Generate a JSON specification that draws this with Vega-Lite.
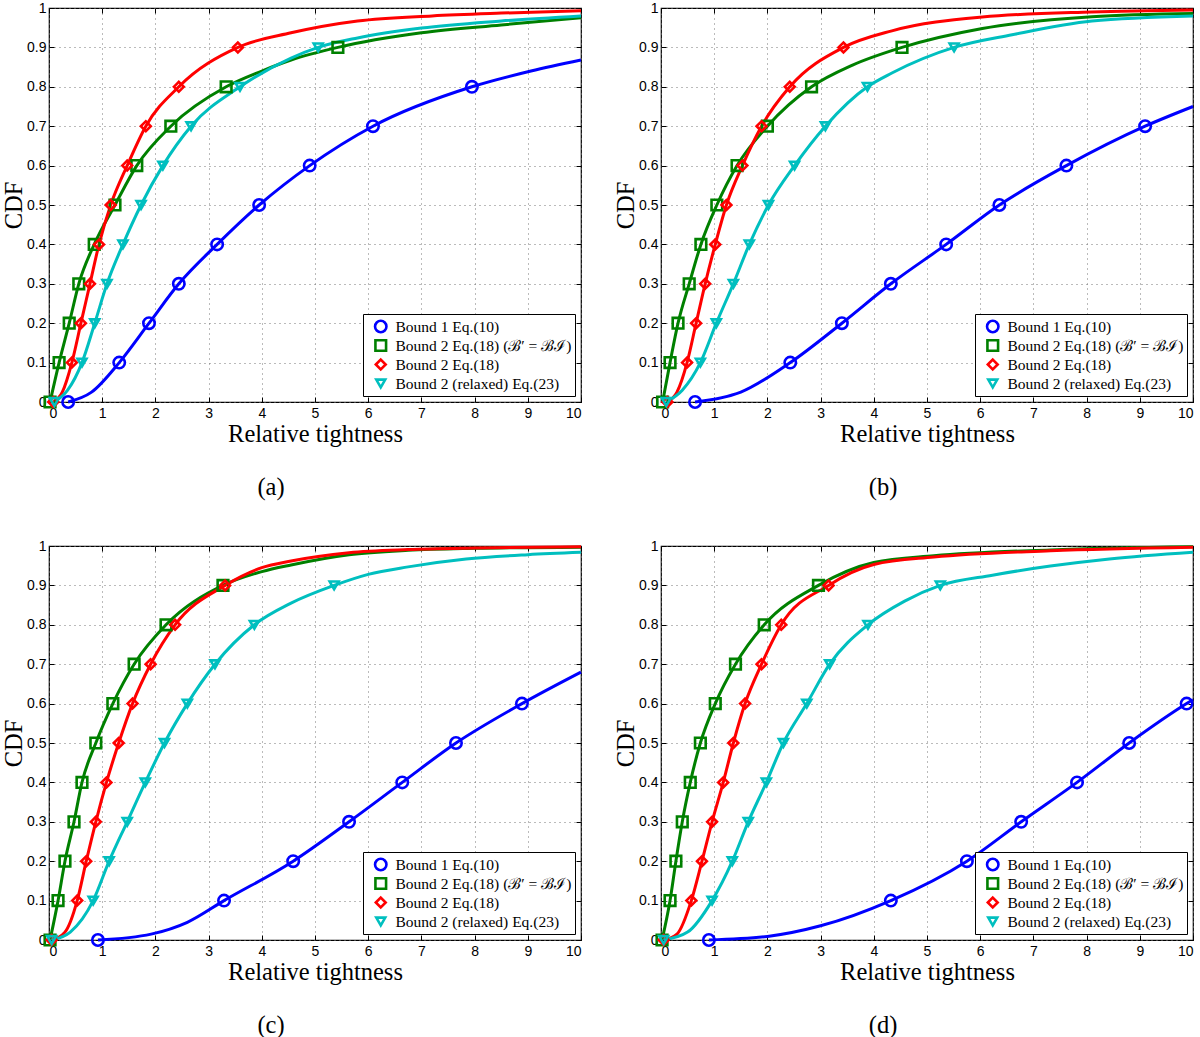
{
"$schema": "https://vega.github.io/schema/vega-lite/v6.json",
"background": "white",
"padding": {"left": 0, "top": 0, "right": 5, "bottom": 0},
"bounds": "flush",
"columns": 2,
"spacing": {"column": 80, "row": 144},
"config": {
  "view": {"stroke": "black", "strokeWidth": 1.2},
  "axis": {"labelFont": "Liberation Sans", "labelFontSize": 14, "labelColor": "black", "titleFont": "Liberation Serif", "titleFontSize": 24.5, "titleFontWeight": "normal", "titleColor": "black", "domain": false, "tickColor": "black", "tickSize": -5, "tickWidth": 1, "gridColor": "#777", "gridDash": [1, 4], "gridOpacity": 1, "gridWidth": 1},
  "axisBottom": {"labelPadding": 9, "titlePadding": 2},
  "axisLeft": {"labelPadding": 8, "titlePadding": 0},
  "legend": {"labelFont": "Liberation Serif", "labelFontSize": 15.5, "labelColor": "black", "strokeColor": "black", "fillColor": "white", "padding": 3, "rowPadding": 0, "clipHeight": 19, "symbolOffset": 7, "labelOffset": 7, "symbolStrokeWidth": 2.6, "symbolSize": 100, "offset": 6, "orient": "bottom-right", "title": null, "labelLimit": 300},
  "title": {"font": "Liberation Serif", "fontSize": 24.5, "fontWeight": "normal", "color": "black"}
},
"resolve": {"scale": {"color": "independent", "shape": "independent", "size": "independent"}, "legend": {"color": "independent", "shape": "independent"}},
"data": {"values": [
{"p":"a","s":"b1","x":0.36,"y":0,"k":"m"},{"p":"a","s":"b1","x":0.8,"y":0.025,"k":"c"},{"p":"a","s":"b1","x":1.32,"y":0.1,"k":"m"},{"p":"a","s":"b1","x":1.88,"y":0.2,"k":"m"},{"p":"a","s":"b1","x":2.44,"y":0.3,"k":"m"},{"p":"a","s":"b1","x":3.16,"y":0.4,"k":"m"},{"p":"a","s":"b1","x":3.95,"y":0.5,"k":"m"},{"p":"a","s":"b1","x":4.9,"y":0.6,"k":"m"},{"p":"a","s":"b1","x":6.09,"y":0.7,"k":"m"},{"p":"a","s":"b1","x":7.95,"y":0.8,"k":"m"},{"p":"a","s":"b1","x":9.06,"y":0.84,"k":"c"},{"p":"a","s":"b1","x":10,"y":0.868,"k":"c"},
{"p":"a","s":"b2i","x":0.02,"y":0,"k":"m"},{"p":"a","s":"b2i","x":0.19,"y":0.1,"k":"m"},{"p":"a","s":"b2i","x":0.38,"y":0.2,"k":"m"},{"p":"a","s":"b2i","x":0.56,"y":0.3,"k":"m"},{"p":"a","s":"b2i","x":0.85,"y":0.4,"k":"m"},{"p":"a","s":"b2i","x":1.24,"y":0.5,"k":"m"},{"p":"a","s":"b2i","x":1.65,"y":0.6,"k":"m"},{"p":"a","s":"b2i","x":2.29,"y":0.7,"k":"m"},{"p":"a","s":"b2i","x":3.33,"y":0.8,"k":"m"},{"p":"a","s":"b2i","x":4.0,"y":0.84,"k":"c"},{"p":"a","s":"b2i","x":4.55,"y":0.868,"k":"c"},{"p":"a","s":"b2i","x":5.43,"y":0.9,"k":"m"},{"p":"a","s":"b2i","x":7.0,"y":0.937,"k":"c"},{"p":"a","s":"b2i","x":8.5,"y":0.957,"k":"c"},{"p":"a","s":"b2i","x":10,"y":0.975,"k":"c"},
{"p":"a","s":"b2","x":0.08,"y":0,"k":"m"},{"p":"a","s":"b2","x":0.25,"y":0.025,"k":"c"},{"p":"a","s":"b2","x":0.43,"y":0.1,"k":"m"},{"p":"a","s":"b2","x":0.6,"y":0.2,"k":"m"},{"p":"a","s":"b2","x":0.77,"y":0.3,"k":"m"},{"p":"a","s":"b2","x":0.94,"y":0.4,"k":"m"},{"p":"a","s":"b2","x":1.16,"y":0.5,"k":"m"},{"p":"a","s":"b2","x":1.47,"y":0.6,"k":"m"},{"p":"a","s":"b2","x":1.82,"y":0.7,"k":"m"},{"p":"a","s":"b2","x":2.44,"y":0.8,"k":"m"},{"p":"a","s":"b2","x":3.55,"y":0.9,"k":"m"},{"p":"a","s":"b2","x":4.55,"y":0.937,"k":"c"},{"p":"a","s":"b2","x":5.8,"y":0.967,"k":"c"},{"p":"a","s":"b2","x":7.2,"y":0.98,"k":"c"},{"p":"a","s":"b2","x":8.5,"y":0.987,"k":"c"},{"p":"a","s":"b2","x":10,"y":0.993,"k":"c"},
{"p":"a","s":"b2r","x":0.1,"y":0,"k":"m"},{"p":"a","s":"b2r","x":0.35,"y":0.03,"k":"c"},{"p":"a","s":"b2r","x":0.62,"y":0.1,"k":"m"},{"p":"a","s":"b2r","x":0.86,"y":0.2,"k":"m"},{"p":"a","s":"b2r","x":1.09,"y":0.3,"k":"m"},{"p":"a","s":"b2r","x":1.39,"y":0.4,"k":"m"},{"p":"a","s":"b2r","x":1.73,"y":0.5,"k":"m"},{"p":"a","s":"b2r","x":2.14,"y":0.6,"k":"m"},{"p":"a","s":"b2r","x":2.67,"y":0.7,"k":"m"},{"p":"a","s":"b2r","x":3.59,"y":0.8,"k":"m"},{"p":"a","s":"b2r","x":4.55,"y":0.873,"k":"c"},{"p":"a","s":"b2r","x":5.06,"y":0.9,"k":"m"},{"p":"a","s":"b2r","x":5.8,"y":0.924,"k":"c"},{"p":"a","s":"b2r","x":7.0,"y":0.949,"k":"c"},{"p":"a","s":"b2r","x":8.5,"y":0.967,"k":"c"},{"p":"a","s":"b2r","x":10,"y":0.98,"k":"c"},

{"p":"b","s":"b1","x":0.64,"y":0,"k":"m"},{"p":"b","s":"b1","x":1.5,"y":0.025,"k":"c"},{"p":"b","s":"b1","x":2.43,"y":0.1,"k":"m"},{"p":"b","s":"b1","x":3.4,"y":0.2,"k":"m"},{"p":"b","s":"b1","x":4.32,"y":0.3,"k":"m"},{"p":"b","s":"b1","x":5.36,"y":0.4,"k":"m"},{"p":"b","s":"b1","x":6.36,"y":0.5,"k":"m"},{"p":"b","s":"b1","x":7.62,"y":0.6,"k":"m"},{"p":"b","s":"b1","x":9.1,"y":0.7,"k":"m"},{"p":"b","s":"b1","x":10,"y":0.75,"k":"c"},
{"p":"b","s":"b2i","x":0.03,"y":0,"k":"m"},{"p":"b","s":"b2i","x":0.17,"y":0.1,"k":"m"},{"p":"b","s":"b2i","x":0.32,"y":0.2,"k":"m"},{"p":"b","s":"b2i","x":0.53,"y":0.3,"k":"m"},{"p":"b","s":"b2i","x":0.75,"y":0.4,"k":"m"},{"p":"b","s":"b2i","x":1.05,"y":0.5,"k":"m"},{"p":"b","s":"b2i","x":1.43,"y":0.6,"k":"m"},{"p":"b","s":"b2i","x":2.0,"y":0.7,"k":"m"},{"p":"b","s":"b2i","x":2.83,"y":0.8,"k":"m"},{"p":"b","s":"b2i","x":3.6,"y":0.855,"k":"c"},{"p":"b","s":"b2i","x":4.53,"y":0.9,"k":"m"},{"p":"b","s":"b2i","x":6.04,"y":0.948,"k":"c"},{"p":"b","s":"b2i","x":8.1,"y":0.978,"k":"c"},{"p":"b","s":"b2i","x":10,"y":0.986,"k":"c"},
{"p":"b","s":"b2","x":0.12,"y":0,"k":"m"},{"p":"b","s":"b2","x":0.3,"y":0.025,"k":"c"},{"p":"b","s":"b2","x":0.49,"y":0.1,"k":"m"},{"p":"b","s":"b2","x":0.66,"y":0.2,"k":"m"},{"p":"b","s":"b2","x":0.83,"y":0.3,"k":"m"},{"p":"b","s":"b2","x":1.02,"y":0.4,"k":"m"},{"p":"b","s":"b2","x":1.23,"y":0.5,"k":"m"},{"p":"b","s":"b2","x":1.53,"y":0.6,"k":"m"},{"p":"b","s":"b2","x":1.89,"y":0.7,"k":"m"},{"p":"b","s":"b2","x":2.42,"y":0.8,"k":"m"},{"p":"b","s":"b2","x":3.43,"y":0.9,"k":"m"},{"p":"b","s":"b2","x":4.34,"y":0.942,"k":"c"},{"p":"b","s":"b2","x":6.04,"y":0.977,"k":"c"},{"p":"b","s":"b2","x":8.1,"y":0.99,"k":"c"},{"p":"b","s":"b2","x":10,"y":0.995,"k":"c"},
{"p":"b","s":"b2r","x":0.1,"y":0,"k":"m"},{"p":"b","s":"b2r","x":0.4,"y":0.03,"k":"c"},{"p":"b","s":"b2r","x":0.74,"y":0.1,"k":"m"},{"p":"b","s":"b2r","x":1.04,"y":0.2,"k":"m"},{"p":"b","s":"b2r","x":1.36,"y":0.3,"k":"m"},{"p":"b","s":"b2r","x":1.66,"y":0.4,"k":"m"},{"p":"b","s":"b2r","x":2.02,"y":0.5,"k":"m"},{"p":"b","s":"b2r","x":2.51,"y":0.6,"k":"m"},{"p":"b","s":"b2r","x":3.09,"y":0.7,"k":"m"},{"p":"b","s":"b2r","x":3.88,"y":0.8,"k":"m"},{"p":"b","s":"b2r","x":4.34,"y":0.835,"k":"c"},{"p":"b","s":"b2r","x":5.51,"y":0.9,"k":"m"},{"p":"b","s":"b2r","x":6.6,"y":0.932,"k":"c"},{"p":"b","s":"b2r","x":8.1,"y":0.967,"k":"c"},{"p":"b","s":"b2r","x":10,"y":0.98,"k":"c"},

{"p":"c","s":"b1","x":0.92,"y":0,"k":"m"},{"p":"c","s":"b1","x":1.92,"y":0.015,"k":"c"},{"p":"c","s":"b1","x":2.6,"y":0.045,"k":"c"},{"p":"c","s":"b1","x":3.29,"y":0.1,"k":"m"},{"p":"c","s":"b1","x":4.59,"y":0.2,"k":"m"},{"p":"c","s":"b1","x":5.64,"y":0.3,"k":"m"},{"p":"c","s":"b1","x":6.64,"y":0.4,"k":"m"},{"p":"c","s":"b1","x":7.65,"y":0.5,"k":"m"},{"p":"c","s":"b1","x":8.89,"y":0.6,"k":"m"},{"p":"c","s":"b1","x":10,"y":0.68,"k":"c"},
{"p":"c","s":"b2i","x":0.02,"y":0,"k":"m"},{"p":"c","s":"b2i","x":0.17,"y":0.1,"k":"m"},{"p":"c","s":"b2i","x":0.3,"y":0.2,"k":"m"},{"p":"c","s":"b2i","x":0.47,"y":0.3,"k":"m"},{"p":"c","s":"b2i","x":0.62,"y":0.4,"k":"m"},{"p":"c","s":"b2i","x":0.88,"y":0.5,"k":"m"},{"p":"c","s":"b2i","x":1.2,"y":0.6,"k":"m"},{"p":"c","s":"b2i","x":1.6,"y":0.7,"k":"m"},{"p":"c","s":"b2i","x":2.2,"y":0.8,"k":"m"},{"p":"c","s":"b2i","x":3.27,"y":0.9,"k":"m"},{"p":"c","s":"b2i","x":4,"y":0.935,"k":"c"},{"p":"c","s":"b2i","x":4.55,"y":0.952,"k":"c"},{"p":"c","s":"b2i","x":5.64,"y":0.978,"k":"c"},{"p":"c","s":"b2i","x":6.75,"y":0.989,"k":"c"},{"p":"c","s":"b2i","x":8,"y":0.994,"k":"c"},{"p":"c","s":"b2i","x":10,"y":0.997,"k":"c"},
{"p":"c","s":"b2","x":0.05,"y":0,"k":"m"},{"p":"c","s":"b2","x":0.3,"y":0.02,"k":"c"},{"p":"c","s":"b2","x":0.53,"y":0.1,"k":"m"},{"p":"c","s":"b2","x":0.7,"y":0.2,"k":"m"},{"p":"c","s":"b2","x":0.88,"y":0.3,"k":"m"},{"p":"c","s":"b2","x":1.08,"y":0.4,"k":"m"},{"p":"c","s":"b2","x":1.31,"y":0.5,"k":"m"},{"p":"c","s":"b2","x":1.57,"y":0.6,"k":"m"},{"p":"c","s":"b2","x":1.91,"y":0.7,"k":"m"},{"p":"c","s":"b2","x":2.37,"y":0.8,"k":"m"},{"p":"c","s":"b2","x":3.31,"y":0.9,"k":"m"},{"p":"c","s":"b2","x":4,"y":0.945,"k":"c"},{"p":"c","s":"b2","x":4.55,"y":0.962,"k":"c"},{"p":"c","s":"b2","x":5.64,"y":0.983,"k":"c"},{"p":"c","s":"b2","x":6.75,"y":0.991,"k":"c"},{"p":"c","s":"b2","x":8,"y":0.995,"k":"c"},{"p":"c","s":"b2","x":10,"y":0.998,"k":"c"},
{"p":"c","s":"b2r","x":0.05,"y":0,"k":"m"},{"p":"c","s":"b2r","x":0.4,"y":0.02,"k":"c"},{"p":"c","s":"b2r","x":0.83,"y":0.1,"k":"m"},{"p":"c","s":"b2r","x":1.13,"y":0.2,"k":"m"},{"p":"c","s":"b2r","x":1.47,"y":0.3,"k":"m"},{"p":"c","s":"b2r","x":1.81,"y":0.4,"k":"m"},{"p":"c","s":"b2r","x":2.17,"y":0.5,"k":"m"},{"p":"c","s":"b2r","x":2.6,"y":0.6,"k":"m"},{"p":"c","s":"b2r","x":3.12,"y":0.7,"k":"m"},{"p":"c","s":"b2r","x":3.86,"y":0.8,"k":"m"},{"p":"c","s":"b2r","x":4.55,"y":0.855,"k":"c"},{"p":"c","s":"b2r","x":5.36,"y":0.9,"k":"m"},{"p":"c","s":"b2r","x":6.0,"y":0.928,"k":"c"},{"p":"c","s":"b2r","x":6.75,"y":0.947,"k":"c"},{"p":"c","s":"b2r","x":7.84,"y":0.967,"k":"c"},{"p":"c","s":"b2r","x":9,"y":0.978,"k":"c"},{"p":"c","s":"b2r","x":10,"y":0.984,"k":"c"},

{"p":"d","s":"b1","x":0.9,"y":0,"k":"m"},{"p":"d","s":"b1","x":2.0,"y":0.009,"k":"c"},{"p":"d","s":"b1","x":3.0,"y":0.036,"k":"c"},{"p":"d","s":"b1","x":4.32,"y":0.1,"k":"m"},{"p":"d","s":"b1","x":5.75,"y":0.2,"k":"m"},{"p":"d","s":"b1","x":6.77,"y":0.3,"k":"m"},{"p":"d","s":"b1","x":7.82,"y":0.4,"k":"m"},{"p":"d","s":"b1","x":8.8,"y":0.5,"k":"m"},{"p":"d","s":"b1","x":9.88,"y":0.6,"k":"m"},{"p":"d","s":"b1","x":10,"y":0.61,"k":"c"},
{"p":"d","s":"b2i","x":0.02,"y":0,"k":"m"},{"p":"d","s":"b2i","x":0.17,"y":0.1,"k":"m"},{"p":"d","s":"b2i","x":0.28,"y":0.2,"k":"m"},{"p":"d","s":"b2i","x":0.4,"y":0.3,"k":"m"},{"p":"d","s":"b2i","x":0.55,"y":0.4,"k":"m"},{"p":"d","s":"b2i","x":0.74,"y":0.5,"k":"m"},{"p":"d","s":"b2i","x":1.02,"y":0.6,"k":"m"},{"p":"d","s":"b2i","x":1.4,"y":0.7,"k":"m"},{"p":"d","s":"b2i","x":1.94,"y":0.8,"k":"m"},{"p":"d","s":"b2i","x":2.96,"y":0.9,"k":"m"},{"p":"d","s":"b2i","x":4,"y":0.958,"k":"c"},{"p":"d","s":"b2i","x":5.13,"y":0.975,"k":"c"},{"p":"d","s":"b2i","x":7.32,"y":0.99,"k":"c"},{"p":"d","s":"b2i","x":10,"y":0.998,"k":"c"},
{"p":"d","s":"b2","x":0.05,"y":0,"k":"m"},{"p":"d","s":"b2","x":0.3,"y":0.015,"k":"c"},{"p":"d","s":"b2","x":0.57,"y":0.1,"k":"m"},{"p":"d","s":"b2","x":0.77,"y":0.2,"k":"m"},{"p":"d","s":"b2","x":0.96,"y":0.3,"k":"m"},{"p":"d","s":"b2","x":1.17,"y":0.4,"k":"m"},{"p":"d","s":"b2","x":1.36,"y":0.5,"k":"m"},{"p":"d","s":"b2","x":1.58,"y":0.6,"k":"m"},{"p":"d","s":"b2","x":1.89,"y":0.7,"k":"m"},{"p":"d","s":"b2","x":2.26,"y":0.8,"k":"m"},{"p":"d","s":"b2","x":3.15,"y":0.9,"k":"m"},{"p":"d","s":"b2","x":4,"y":0.953,"k":"c"},{"p":"d","s":"b2","x":5.13,"y":0.972,"k":"c"},{"p":"d","s":"b2","x":7.32,"y":0.988,"k":"c"},{"p":"d","s":"b2","x":10,"y":0.997,"k":"c"},
{"p":"d","s":"b2r","x":0.05,"y":0,"k":"m"},{"p":"d","s":"b2r","x":0.5,"y":0.02,"k":"c"},{"p":"d","s":"b2r","x":0.96,"y":0.1,"k":"m"},{"p":"d","s":"b2r","x":1.34,"y":0.2,"k":"m"},{"p":"d","s":"b2r","x":1.64,"y":0.3,"k":"m"},{"p":"d","s":"b2r","x":1.98,"y":0.4,"k":"m"},{"p":"d","s":"b2r","x":2.3,"y":0.5,"k":"m"},{"p":"d","s":"b2r","x":2.74,"y":0.6,"k":"m"},{"p":"d","s":"b2r","x":3.17,"y":0.7,"k":"m"},{"p":"d","s":"b2r","x":3.89,"y":0.8,"k":"m"},{"p":"d","s":"b2r","x":4.58,"y":0.86,"k":"c"},{"p":"d","s":"b2r","x":5.25,"y":0.9,"k":"m"},{"p":"d","s":"b2r","x":6.23,"y":0.926,"k":"c"},{"p":"d","s":"b2r","x":7.32,"y":0.949,"k":"c"},{"p":"d","s":"b2r","x":8.43,"y":0.967,"k":"c"},{"p":"d","s":"b2r","x":10,"y":0.984,"k":"c"}
]},
"concat": [
{"width": 532, "height": 394,
 "title": {"text": "(a)", "orient": "bottom", "offset": 30, "frame": "group", "dx": -44},
 "transform": [{"filter": "datum.p === 'a'"}],
 "resolve": {"axis": {"x": "independent", "y": "independent"}},
 "layer": [
  {"mark": {"type": "line", "strokeWidth": 3, "interpolate": "monotone"},
   "encoding": {
    "x": {"field": "x", "type": "quantitative", "scale": {"domain": [0, 10], "nice": false}, "axis": {"orient": "bottom", "values": [0,1,2,3,4,5,6,7,8,9,10], "format": "d", "title": "Relative tightness"}},
    "y": {"field": "y", "type": "quantitative", "scale": {"domain": [0, 1], "nice": false}, "axis": {"orient": "left", "values": [0,0.1,0.2,0.3,0.4,0.5,0.6,0.7,0.8,0.9,1], "format": ".1~f", "title": "CDF"}},
    "color": {"field": "s", "type": "nominal", "scale": {"domain": ["b1","b2i","b2","b2r"], "range": ["#0000ff","#008000","#ff0000","#00bfbf"]}, "legend": {"labelExpr": "datum.label === 'b1' ? 'Bound 1 Eq.(10)' : datum.label === 'b2i' ? 'Bound 2 Eq.(18) (ℬ′ = ℬℐ)' : datum.label === 'b2' ? 'Bound 2 Eq.(18)' : 'Bound 2 (relaxed) Eq.(23)'"}}}},
  {"transform": [{"filter": "datum.k === 'm'"}],
   "mark": {"type": "point", "filled": false, "strokeWidth": 2.6, "opacity": 1},
   "encoding": {
    "x": {"field": "x", "type": "quantitative", "axis": {"orient": "top", "values": [0,1,2,3,4,5,6,7,8,9,10], "labels": false, "grid": false, "title": null}},
    "y": {"field": "y", "type": "quantitative", "axis": {"orient": "right", "values": [0,0.1,0.2,0.3,0.4,0.5,0.6,0.7,0.8,0.9,1], "labels": false, "grid": false, "title": null}},
    "color": {"field": "s", "type": "nominal", "scale": {"domain": ["b1","b2i","b2","b2r"], "range": ["#0000ff","#008000","#ff0000","#00bfbf"]}, "legend": {"labelExpr": "datum.label === 'b1' ? 'Bound 1 Eq.(10)' : datum.label === 'b2i' ? 'Bound 2 Eq.(18) (ℬ′ = ℬℐ)' : datum.label === 'b2' ? 'Bound 2 Eq.(18)' : 'Bound 2 (relaxed) Eq.(23)'"}},
    "shape": {"field": "s", "type": "nominal", "scale": {"domain": ["b1","b2i","b2","b2r"], "range": ["circle","square","diamond","triangle-down"]}, "legend": {"labelExpr": "datum.label === 'b1' ? 'Bound 1 Eq.(10)' : datum.label === 'b2i' ? 'Bound 2 Eq.(18) (ℬ′ = ℬℐ)' : datum.label === 'b2' ? 'Bound 2 Eq.(18)' : 'Bound 2 (relaxed) Eq.(23)'"}},
    "size": {"field": "s", "type": "nominal", "scale": {"domain": ["b1","b2i","b2","b2r"], "range": [130, 80, 200, 200]}, "legend": null}}}
 ]},
{"width": 532, "height": 394,
 "title": {"text": "(b)", "orient": "bottom", "offset": 30, "frame": "group", "dx": -44},
 "transform": [{"filter": "datum.p === 'b'"}],
 "resolve": {"axis": {"x": "independent", "y": "independent"}},
 "layer": [
  {"mark": {"type": "line", "strokeWidth": 3, "interpolate": "monotone"},
   "encoding": {
    "x": {"field": "x", "type": "quantitative", "scale": {"domain": [0, 10], "nice": false}, "axis": {"orient": "bottom", "values": [0,1,2,3,4,5,6,7,8,9,10], "format": "d", "title": "Relative tightness"}},
    "y": {"field": "y", "type": "quantitative", "scale": {"domain": [0, 1], "nice": false}, "axis": {"orient": "left", "values": [0,0.1,0.2,0.3,0.4,0.5,0.6,0.7,0.8,0.9,1], "format": ".1~f", "title": "CDF"}},
    "color": {"field": "s", "type": "nominal", "scale": {"domain": ["b1","b2i","b2","b2r"], "range": ["#0000ff","#008000","#ff0000","#00bfbf"]}, "legend": {"labelExpr": "datum.label === 'b1' ? 'Bound 1 Eq.(10)' : datum.label === 'b2i' ? 'Bound 2 Eq.(18) (ℬ′ = ℬℐ)' : datum.label === 'b2' ? 'Bound 2 Eq.(18)' : 'Bound 2 (relaxed) Eq.(23)'"}}}},
  {"transform": [{"filter": "datum.k === 'm'"}],
   "mark": {"type": "point", "filled": false, "strokeWidth": 2.6, "opacity": 1},
   "encoding": {
    "x": {"field": "x", "type": "quantitative", "axis": {"orient": "top", "values": [0,1,2,3,4,5,6,7,8,9,10], "labels": false, "grid": false, "title": null}},
    "y": {"field": "y", "type": "quantitative", "axis": {"orient": "right", "values": [0,0.1,0.2,0.3,0.4,0.5,0.6,0.7,0.8,0.9,1], "labels": false, "grid": false, "title": null}},
    "color": {"field": "s", "type": "nominal", "scale": {"domain": ["b1","b2i","b2","b2r"], "range": ["#0000ff","#008000","#ff0000","#00bfbf"]}, "legend": {"labelExpr": "datum.label === 'b1' ? 'Bound 1 Eq.(10)' : datum.label === 'b2i' ? 'Bound 2 Eq.(18) (ℬ′ = ℬℐ)' : datum.label === 'b2' ? 'Bound 2 Eq.(18)' : 'Bound 2 (relaxed) Eq.(23)'"}},
    "shape": {"field": "s", "type": "nominal", "scale": {"domain": ["b1","b2i","b2","b2r"], "range": ["circle","square","diamond","triangle-down"]}, "legend": {"labelExpr": "datum.label === 'b1' ? 'Bound 1 Eq.(10)' : datum.label === 'b2i' ? 'Bound 2 Eq.(18) (ℬ′ = ℬℐ)' : datum.label === 'b2' ? 'Bound 2 Eq.(18)' : 'Bound 2 (relaxed) Eq.(23)'"}},
    "size": {"field": "s", "type": "nominal", "scale": {"domain": ["b1","b2i","b2","b2r"], "range": [130, 80, 200, 200]}, "legend": null}}}
 ]},
{"width": 532, "height": 394,
 "title": {"text": "(c)", "orient": "bottom", "offset": 30, "frame": "group", "dx": -44},
 "transform": [{"filter": "datum.p === 'c'"}],
 "resolve": {"axis": {"x": "independent", "y": "independent"}},
 "layer": [
  {"mark": {"type": "line", "strokeWidth": 3, "interpolate": "monotone"},
   "encoding": {
    "x": {"field": "x", "type": "quantitative", "scale": {"domain": [0, 10], "nice": false}, "axis": {"orient": "bottom", "values": [0,1,2,3,4,5,6,7,8,9,10], "format": "d", "title": "Relative tightness"}},
    "y": {"field": "y", "type": "quantitative", "scale": {"domain": [0, 1], "nice": false}, "axis": {"orient": "left", "values": [0,0.1,0.2,0.3,0.4,0.5,0.6,0.7,0.8,0.9,1], "format": ".1~f", "title": "CDF"}},
    "color": {"field": "s", "type": "nominal", "scale": {"domain": ["b1","b2i","b2","b2r"], "range": ["#0000ff","#008000","#ff0000","#00bfbf"]}, "legend": {"labelExpr": "datum.label === 'b1' ? 'Bound 1 Eq.(10)' : datum.label === 'b2i' ? 'Bound 2 Eq.(18) (ℬ′ = ℬℐ)' : datum.label === 'b2' ? 'Bound 2 Eq.(18)' : 'Bound 2 (relaxed) Eq.(23)'"}}}},
  {"transform": [{"filter": "datum.k === 'm'"}],
   "mark": {"type": "point", "filled": false, "strokeWidth": 2.6, "opacity": 1},
   "encoding": {
    "x": {"field": "x", "type": "quantitative", "axis": {"orient": "top", "values": [0,1,2,3,4,5,6,7,8,9,10], "labels": false, "grid": false, "title": null}},
    "y": {"field": "y", "type": "quantitative", "axis": {"orient": "right", "values": [0,0.1,0.2,0.3,0.4,0.5,0.6,0.7,0.8,0.9,1], "labels": false, "grid": false, "title": null}},
    "color": {"field": "s", "type": "nominal", "scale": {"domain": ["b1","b2i","b2","b2r"], "range": ["#0000ff","#008000","#ff0000","#00bfbf"]}, "legend": {"labelExpr": "datum.label === 'b1' ? 'Bound 1 Eq.(10)' : datum.label === 'b2i' ? 'Bound 2 Eq.(18) (ℬ′ = ℬℐ)' : datum.label === 'b2' ? 'Bound 2 Eq.(18)' : 'Bound 2 (relaxed) Eq.(23)'"}},
    "shape": {"field": "s", "type": "nominal", "scale": {"domain": ["b1","b2i","b2","b2r"], "range": ["circle","square","diamond","triangle-down"]}, "legend": {"labelExpr": "datum.label === 'b1' ? 'Bound 1 Eq.(10)' : datum.label === 'b2i' ? 'Bound 2 Eq.(18) (ℬ′ = ℬℐ)' : datum.label === 'b2' ? 'Bound 2 Eq.(18)' : 'Bound 2 (relaxed) Eq.(23)'"}},
    "size": {"field": "s", "type": "nominal", "scale": {"domain": ["b1","b2i","b2","b2r"], "range": [130, 80, 200, 200]}, "legend": null}}}
 ]},
{"width": 532, "height": 394,
 "title": {"text": "(d)", "orient": "bottom", "offset": 30, "frame": "group", "dx": -44},
 "transform": [{"filter": "datum.p === 'd'"}],
 "resolve": {"axis": {"x": "independent", "y": "independent"}},
 "layer": [
  {"mark": {"type": "line", "strokeWidth": 3, "interpolate": "monotone"},
   "encoding": {
    "x": {"field": "x", "type": "quantitative", "scale": {"domain": [0, 10], "nice": false}, "axis": {"orient": "bottom", "values": [0,1,2,3,4,5,6,7,8,9,10], "format": "d", "title": "Relative tightness"}},
    "y": {"field": "y", "type": "quantitative", "scale": {"domain": [0, 1], "nice": false}, "axis": {"orient": "left", "values": [0,0.1,0.2,0.3,0.4,0.5,0.6,0.7,0.8,0.9,1], "format": ".1~f", "title": "CDF"}},
    "color": {"field": "s", "type": "nominal", "scale": {"domain": ["b1","b2i","b2","b2r"], "range": ["#0000ff","#008000","#ff0000","#00bfbf"]}, "legend": {"labelExpr": "datum.label === 'b1' ? 'Bound 1 Eq.(10)' : datum.label === 'b2i' ? 'Bound 2 Eq.(18) (ℬ′ = ℬℐ)' : datum.label === 'b2' ? 'Bound 2 Eq.(18)' : 'Bound 2 (relaxed) Eq.(23)'"}}}},
  {"transform": [{"filter": "datum.k === 'm'"}],
   "mark": {"type": "point", "filled": false, "strokeWidth": 2.6, "opacity": 1},
   "encoding": {
    "x": {"field": "x", "type": "quantitative", "axis": {"orient": "top", "values": [0,1,2,3,4,5,6,7,8,9,10], "labels": false, "grid": false, "title": null}},
    "y": {"field": "y", "type": "quantitative", "axis": {"orient": "right", "values": [0,0.1,0.2,0.3,0.4,0.5,0.6,0.7,0.8,0.9,1], "labels": false, "grid": false, "title": null}},
    "color": {"field": "s", "type": "nominal", "scale": {"domain": ["b1","b2i","b2","b2r"], "range": ["#0000ff","#008000","#ff0000","#00bfbf"]}, "legend": {"labelExpr": "datum.label === 'b1' ? 'Bound 1 Eq.(10)' : datum.label === 'b2i' ? 'Bound 2 Eq.(18) (ℬ′ = ℬℐ)' : datum.label === 'b2' ? 'Bound 2 Eq.(18)' : 'Bound 2 (relaxed) Eq.(23)'"}},
    "shape": {"field": "s", "type": "nominal", "scale": {"domain": ["b1","b2i","b2","b2r"], "range": ["circle","square","diamond","triangle-down"]}, "legend": {"labelExpr": "datum.label === 'b1' ? 'Bound 1 Eq.(10)' : datum.label === 'b2i' ? 'Bound 2 Eq.(18) (ℬ′ = ℬℐ)' : datum.label === 'b2' ? 'Bound 2 Eq.(18)' : 'Bound 2 (relaxed) Eq.(23)'"}},
    "size": {"field": "s", "type": "nominal", "scale": {"domain": ["b1","b2i","b2","b2r"], "range": [130, 80, 200, 200]}, "legend": null}}}
 ]}
]
}
